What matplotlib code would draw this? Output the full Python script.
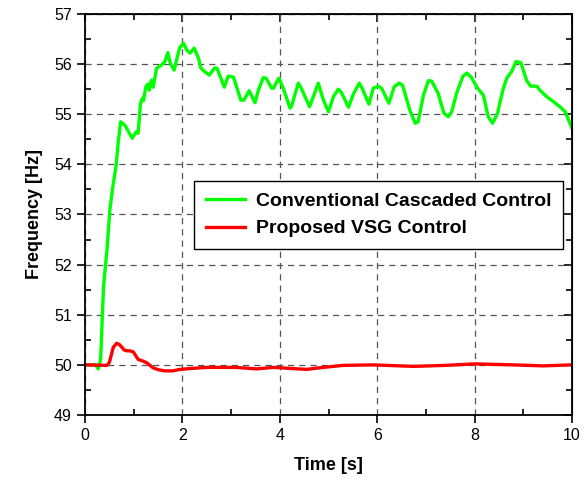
import numpy as np
import matplotlib
matplotlib.use("Agg")
import matplotlib.pyplot as plt
from matplotlib.ticker import MultipleLocator

plt.rcParams['font.family'] = ['Liberation Sans', 'DejaVu Sans']

# green: conventional cascaded control
t_conv = [0, 0.22, 0.27, 0.32, 0.38, 0.45, 0.51, 0.57, 0.64, 0.68, 0.73, 0.82, 0.97, 1.05,
          1.09, 1.14, 1.18, 1.20, 1.25, 1.29, 1.32, 1.36, 1.40, 1.47, 1.52, 1.57, 1.64, 1.70,
          1.75, 1.83, 1.88, 1.94, 2.02, 2.09, 2.16, 2.24, 2.33, 2.38, 2.46, 2.55, 2.66, 2.71,
          2.86, 2.94, 3.05, 3.20, 3.26, 3.37, 3.49, 3.56, 3.66, 3.72, 3.83, 3.87, 3.98, 4.07,
          4.21, 4.24, 4.38, 4.44, 4.61, 4.67, 4.79, 4.89, 5.00, 5.10, 5.20, 5.26, 5.41, 5.51,
          5.63, 5.69, 5.83, 5.92, 6.02, 6.09, 6.24, 6.35, 6.45, 6.52, 6.67, 6.78, 6.84, 6.95,
          7.05, 7.12, 7.25, 7.37, 7.46, 7.53, 7.63, 7.76, 7.84, 7.93, 8.06, 8.18, 8.28, 8.37,
          8.47, 8.58, 8.66, 8.76, 8.85, 8.95, 9.07, 9.15, 9.28, 9.33, 9.48, 9.62, 9.75, 9.86, 10.0]
f_conv = [50.0, 50.0, 49.92, 50.1, 51.56, 52.29, 53.09, 53.55, 53.99, 54.42, 54.85, 54.78, 54.52, 54.65,
          54.62, 55.22, 55.32, 55.27, 55.55, 55.6, 55.48, 55.68, 55.54, 55.92, 55.95, 55.98, 56.05, 56.23,
          56.02, 55.88, 56.08, 56.32, 56.42, 56.28, 56.22, 56.32, 56.12, 55.92, 55.85, 55.78, 55.92, 55.92,
          55.54, 55.76, 55.74, 55.28, 55.28, 55.47, 55.23, 55.48, 55.73, 55.72, 55.52, 55.52, 55.72, 55.52,
          55.12, 55.16, 55.62, 55.52, 55.15, 55.3, 55.62, 55.3, 55.05, 55.35, 55.50, 55.44, 55.14, 55.40,
          55.62, 55.52, 55.20, 55.52, 55.56, 55.52, 55.22, 55.55, 55.62, 55.58, 55.08, 54.82, 54.85, 55.38,
          55.67, 55.66, 55.42, 55.02, 54.95, 55.05, 55.42, 55.76, 55.82, 55.74, 55.52, 55.38, 54.95, 54.82,
          55.02, 55.48, 55.72, 55.85, 56.05, 56.03, 55.67, 55.56, 55.56, 55.49, 55.35, 55.25, 55.15, 55.05, 54.72]

# red: proposed VSG control
t_vsg = [0, 0.45, 0.50, 0.58, 0.65, 0.70, 0.75, 0.80, 0.86, 0.92, 0.99, 1.03, 1.09, 1.18,
         1.27, 1.40, 1.52, 1.64, 1.80, 1.95, 2.2, 2.5, 3.1, 3.52, 3.87, 4.2, 4.55, 4.8,
         5.3, 5.92, 6.74, 7.4, 8.0, 8.8, 9.4, 10.0]
f_vsg = [50.0, 49.99, 50.05, 50.35, 50.43, 50.41, 50.36, 50.3, 50.28, 50.28, 50.26, 50.2, 50.11, 50.08,
         50.04, 49.94, 49.9, 49.88, 49.88, 49.91, 49.93, 49.95, 49.95, 49.92, 49.95, 49.93, 49.91, 49.94,
         49.99, 50.0, 49.97, 49.99, 50.02, 50.0, 49.98, 50.0]

labels = ['Conventional Cascaded Control', 'Proposed VSG Control']

fig = plt.figure(figsize=(5.88, 4.79), dpi=100)
ax = fig.add_axes([0.1446, 0.1336, 0.8282, 0.8372])

ax.plot(t_conv, f_conv, color='#00ff00', lw=2.4, label=labels[0])
ax.plot(t_vsg, f_vsg, color='#ff0000', lw=2.4, label=labels[1])

ax.set_xlim(0, 10)
ax.set_ylim(49, 57)
ax.xaxis.set_major_locator(MultipleLocator(2))
ax.xaxis.set_minor_locator(MultipleLocator(1))
ax.yaxis.set_major_locator(MultipleLocator(1))
ax.yaxis.set_minor_locator(MultipleLocator(0.5))
ax.grid(True, which='major', color='#555555', lw=0.9, linestyle=(0, (5, 4)))

ax.tick_params(which='major', direction='out', length=6, width=1.2, labelsize=11.5)
ax.tick_params(which='minor', direction='in', length=4, width=1.2)
for s in ax.spines.values():
    s.set_linewidth(1.3)

# top and right ticks point inward
top = ax.secondary_xaxis('top')
top.xaxis.set_major_locator(MultipleLocator(2))
top.xaxis.set_minor_locator(MultipleLocator(1))
top.tick_params(which='both', direction='in', labeltop=False, width=1.2)
top.tick_params(which='major', length=6)
top.tick_params(which='minor', length=4)
right = ax.secondary_yaxis('right')
right.yaxis.set_major_locator(MultipleLocator(1))
right.yaxis.set_minor_locator(MultipleLocator(0.5))
right.tick_params(which='both', direction='in', labelright=False, width=1.2)
right.tick_params(which='major', length=6)
right.tick_params(which='minor', length=4)

ax.set_xlabel('Time [s]', fontsize=13, fontweight='bold', labelpad=10)
ax.set_ylabel('Frequency [Hz]', fontsize=13, fontweight='bold', labelpad=8)

leg = ax.legend(loc='upper left', bbox_to_anchor=(0.224, 0.584), fancybox=False,
                edgecolor='black', framealpha=1, prop={'size': 14, 'weight': 'bold'},
                handlelength=2.0, borderpad=0.6, labelspacing=0.5, handletextpad=0.6,
                borderaxespad=0)
leg.get_frame().set_linewidth(1.0)

fig.savefig('out.png', dpi=100)
